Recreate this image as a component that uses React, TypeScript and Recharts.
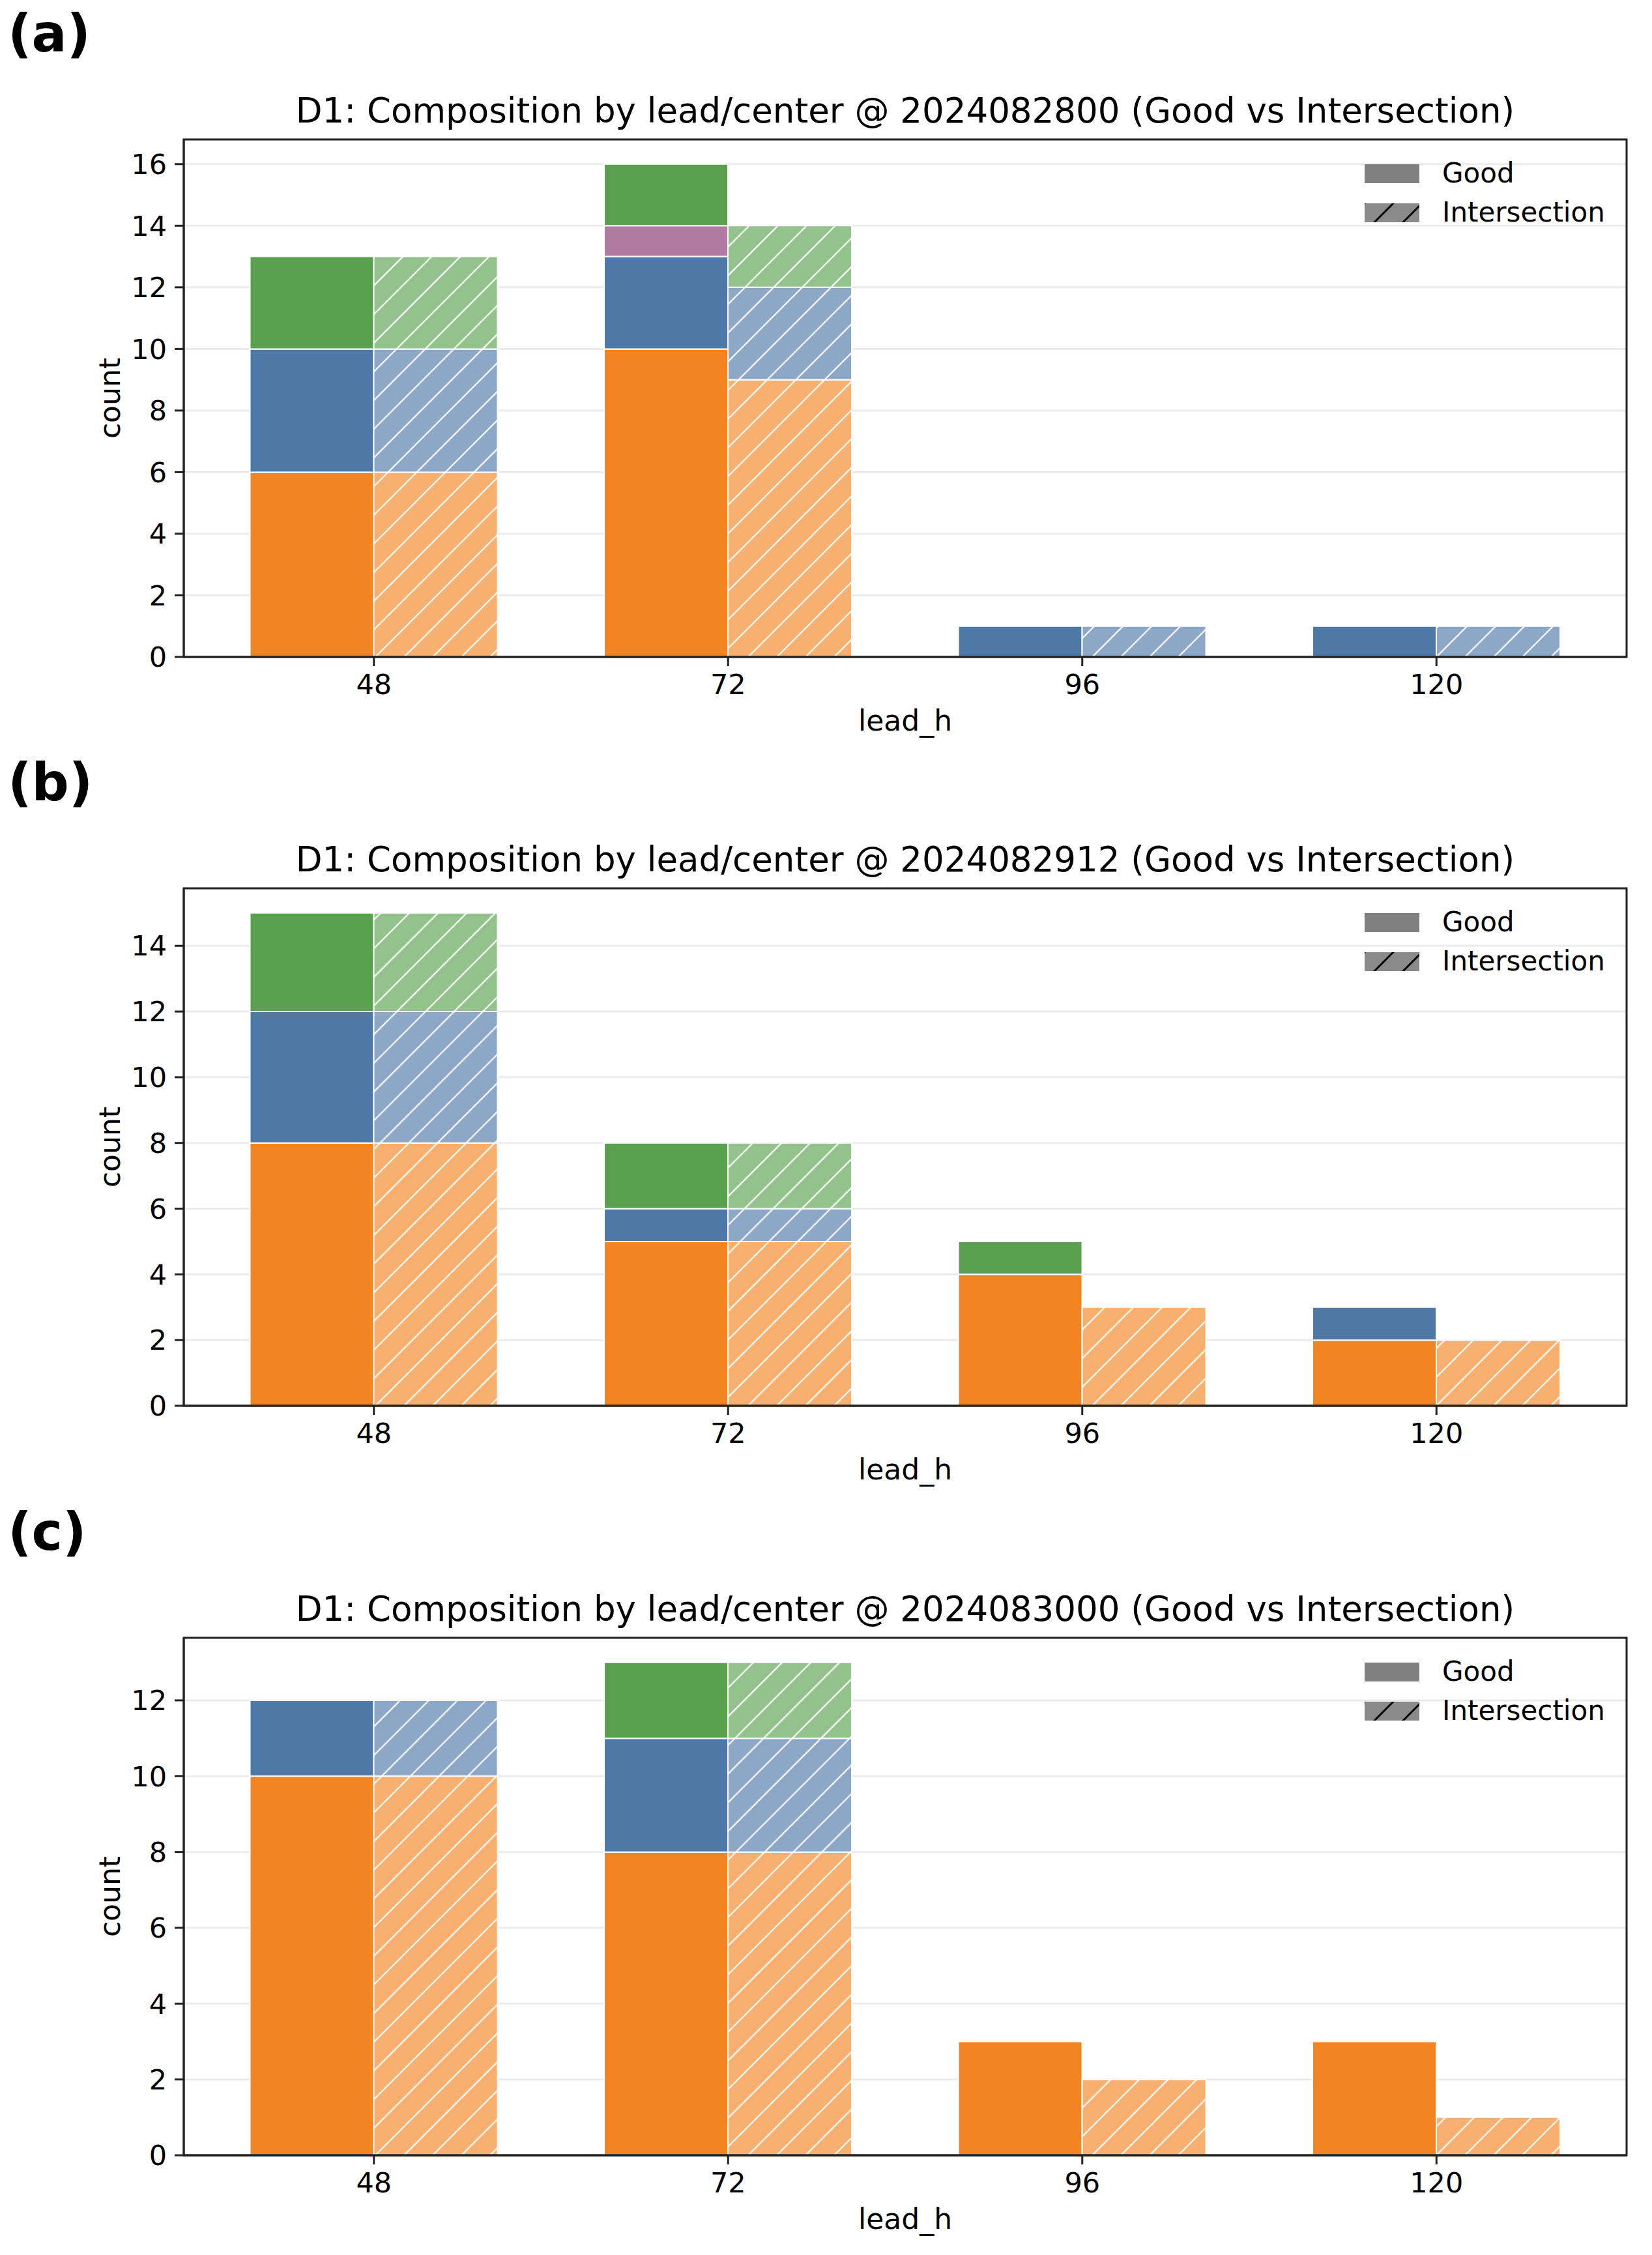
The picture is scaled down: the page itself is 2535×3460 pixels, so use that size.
import { BarChart, Bar, XAxis, YAxis, CartesianGrid, Legend, Label } from 'recharts';

const LEADS = ['48', '72', '96', '120'];
// stack order, bottom -> top
const CENTER_COLORS = ['#f28522', '#4e79a7', '#b07aa1', '#59a14f'];
const LEGEND_LABELS = ['Good', 'Intersection'];

// (a) 2024082800
const A_GOOD_1 = [6, 10, 0, 0];
const A_GOOD_2 = [4, 3, 1, 1];
const A_GOOD_3 = [0, 1, 0, 0];
const A_GOOD_4 = [3, 2, 0, 0];
const A_INT_1 = [6, 9, 0, 0];
const A_INT_2 = [4, 3, 1, 1];
const A_INT_3 = [0, 0, 0, 0];
const A_INT_4 = [3, 2, 0, 0];
const A_TICKS = [0, 2, 4, 6, 8, 10, 12, 14, 16];

// (b) 2024082912
const B_GOOD_1 = [8, 5, 4, 2];
const B_GOOD_2 = [4, 1, 0, 1];
const B_GOOD_3 = [0, 0, 0, 0];
const B_GOOD_4 = [3, 2, 1, 0];
const B_INT_1 = [8, 5, 3, 2];
const B_INT_2 = [4, 1, 0, 0];
const B_INT_3 = [0, 0, 0, 0];
const B_INT_4 = [3, 2, 0, 0];
const B_TICKS = [0, 2, 4, 6, 8, 10, 12, 14];

// (c) 2024083000
const C_GOOD_1 = [10, 8, 3, 3];
const C_GOOD_2 = [2, 3, 0, 0];
const C_GOOD_3 = [0, 0, 0, 0];
const C_GOOD_4 = [0, 2, 0, 0];
const C_INT_1 = [10, 8, 2, 1];
const C_INT_2 = [2, 3, 0, 0];
const C_INT_3 = [0, 0, 0, 0];
const C_INT_4 = [0, 2, 0, 0];
const C_TICKS = [0, 2, 4, 6, 8, 10, 12];

const FONT = '"DejaVu Sans", sans-serif';
const W = 2535;
const H = 1149;
const PLOT_TOP = 214;
const PLOT_BOTTOM = 1008;
const PLOT_LEFT = 282;
const PLOT_RIGHT = 2496;
const Y_AXIS_W = 100;
const X_AXIS_H = 80;
const HATCH = 44;
const AXIS_COLOR = '#222';

const lighten = (hex: string, a: number) => {
  const n = parseInt(hex.slice(1), 16);
  const ch = [(n >> 16) & 255, (n >> 8) & 255, n & 255].map((c) => Math.round(c * a + 255 * (1 - a)));
  return '#' + ch.map((c) => c.toString(16).padStart(2, '0')).join('');
};

const hatchPath = `M${-HATCH / 4},${HATCH / 4} L${HATCH / 4},${-HATCH / 4} M0,${HATCH} L${HATCH},0 M${(HATCH * 3) / 4},${(HATCH * 5) / 4} L${(HATCH * 5) / 4},${(HATCH * 3) / 4}`;

const tickStyle = { fontSize: 43, fill: '#000', fontFamily: FONT };

interface PanelProps {
  tag: string;
  stamp: string;
  good: number[][];
  inter: number[][];
  ticks: number[];
  top: number;
}

function Panel({ tag, stamp, good, inter, ticks, top }: PanelProps) {
  const rows = LEADS.map((lead, i) => {
    const row: Record<string, string | number> = { lead };
    good.forEach((s, j) => { row[`g${j}`] = s[i]; });
    inter.forEach((s, j) => { row[`i${j}`] = s[i]; });
    return row;
  });
  const totals = LEADS.map((_, i) =>
    Math.max(good.reduce((a, s) => a + s[i], 0), inter.reduce((a, s) => a + s[i], 0)),
  );
  const yMax = Math.max(...totals) * 1.05;
  const pid = `hatch-${tag}`;

  const renderLegend = () => (
    <div style={{ fontFamily: FONT, fontSize: 42, color: '#000' }}>
      {LEGEND_LABELS.map((name, i) => (
        <div key={name} style={{ display: 'flex', alignItems: 'center', height: 60 }}>
          <svg width={84} height={29} style={{ display: 'block' }}>
            <rect width={84} height={29} fill={i === 0 ? '#808080' : `url(#${pid}-legend)`} />
          </svg>
          <span style={{ marginLeft: 35, lineHeight: '42px', whiteSpace: 'nowrap' }}>{name}</span>
        </div>
      ))}
    </div>
  );

  return (
    <div style={{ position: 'absolute', left: 0, top, width: W, height: H }}>
      <svg width={W} height={PLOT_TOP} style={{ position: 'absolute', left: 0, top: 0 }}>
        <text x={12} y={79} fontSize={80} fontWeight="bold" fontFamily={FONT} fill="#000">
          ({tag})
        </text>
        <text x={(PLOT_LEFT + PLOT_RIGHT) / 2} y={188} fontSize={53} fontFamily={FONT} textAnchor="middle" fill="#000">
          {`D1: Composition by lead/center @ ${stamp} (Good vs Intersection)`}
        </text>
      </svg>
      <div style={{ position: 'absolute', left: 0, top: 0 }}>
        <BarChart
          width={W}
          height={H}
          data={rows}
          margin={{ top: PLOT_TOP, right: W - PLOT_RIGHT, bottom: H - PLOT_BOTTOM - X_AXIS_H, left: PLOT_LEFT - Y_AXIS_W }}
          barCategoryGap="15%"
          barGap={0}
        >
          <defs>
            {CENTER_COLORS.map((c, j) => (
              <pattern key={j} id={`${pid}-${j}`} patternUnits="userSpaceOnUse" width={HATCH} height={HATCH}>
                <rect width={HATCH} height={HATCH} fill={lighten(c, 0.65)} />
                <path d={hatchPath} stroke="#fff" strokeWidth={2.5} opacity={0.85} />
              </pattern>
            ))}
            <pattern id={`${pid}-legend`} patternUnits="userSpaceOnUse" width={HATCH} height={HATCH}>
              <rect width={HATCH} height={HATCH} fill="#8a8a8a" />
              <path d={hatchPath} stroke="#000" strokeWidth={3} />
            </pattern>
          </defs>
          <CartesianGrid vertical={false} stroke="#ebebeb" strokeWidth={3} />
          {good.map((_, j) => (
            <Bar
              key={`g${j}`}
              dataKey={`g${j}`}
              stackId="good"
              fill={CENTER_COLORS[j]}
              stroke="#fff"
              strokeWidth={2}
              isAnimationActive={false}
            />
          ))}
          {inter.map((_, j) => (
            <Bar
              key={`i${j}`}
              dataKey={`i${j}`}
              stackId="inter"
              fill={`url(#${pid}-${j})`}
              stroke="#fff"
              strokeWidth={2}
              isAnimationActive={false}
            />
          ))}
          <XAxis
            dataKey="lead"
            type="category"
            interval={0}
            padding={{ left: 20, right: 20 }}
            height={X_AXIS_H}
            tickSize={14}
            tickMargin={12}
            tick={tickStyle}
            tickLine={{ stroke: AXIS_COLOR, strokeWidth: 3 }}
            axisLine={{ stroke: AXIS_COLOR, strokeWidth: 3 }}
          >
            <Label
              content={(p: any) => {
                const vb = p.viewBox;
                return (
                  <text x={vb.x + vb.width / 2} y={vb.y + 113} textAnchor="middle" fontSize={44} fontFamily={FONT} fill="#000">
                    lead_h
                  </text>
                );
              }}
            />
          </XAxis>
          <YAxis
            type="number"
            domain={[0, yMax]}
            ticks={ticks}
            interval={0}
            width={Y_AXIS_W}
            tickSize={14}
            tickMargin={12}
            tick={tickStyle}
            tickLine={{ stroke: AXIS_COLOR, strokeWidth: 3 }}
            axisLine={{ stroke: AXIS_COLOR, strokeWidth: 3 }}
          >
            <Label
              content={(p: any) => {
                const vb = p.viewBox;
                const cx = vb.x + 2;
                const cy = vb.y + vb.height / 2;
                return (
                  <text x={cx} y={cy} transform={`rotate(-90 ${cx} ${cy})`} textAnchor="middle" fontSize={44} fontFamily={FONT} fill="#000">
                    count
                  </text>
                );
              }}
            />
          </YAxis>
          <Legend
            layout="vertical"
            align="center"
            verticalAlign="middle"
            content={renderLegend}
            wrapperStyle={{ left: 2094, top: 236, width: 400 }}
          />
        </BarChart>
      </div>
      {/* axes frame (top/right spines) */}
      <svg width={W} height={H} style={{ position: 'absolute', left: 0, top: 0, pointerEvents: 'none' }}>
        <rect
          x={PLOT_LEFT}
          y={PLOT_TOP}
          width={PLOT_RIGHT - PLOT_LEFT}
          height={PLOT_BOTTOM - PLOT_TOP}
          fill="none"
          stroke={AXIS_COLOR}
          strokeWidth={3}
        />
      </svg>
    </div>
  );
}

export default function App() {
  return (
    <div style={{ position: 'absolute', left: 0, top: 0, width: W, height: 3460, background: '#fff', fontFamily: FONT }}>
      <Panel
        tag="a"
        stamp="2024082800"
        good={[A_GOOD_1, A_GOOD_2, A_GOOD_3, A_GOOD_4]}
        inter={[A_INT_1, A_INT_2, A_INT_3, A_INT_4]}
        ticks={A_TICKS}
        top={0}
      />
      <Panel
        tag="b"
        stamp="2024082912"
        good={[B_GOOD_1, B_GOOD_2, B_GOOD_3, B_GOOD_4]}
        inter={[B_INT_1, B_INT_2, B_INT_3, B_INT_4]}
        ticks={B_TICKS}
        top={1149}
      />
      <Panel
        tag="c"
        stamp="2024083000"
        good={[C_GOOD_1, C_GOOD_2, C_GOOD_3, C_GOOD_4]}
        inter={[C_INT_1, C_INT_2, C_INT_3, C_INT_4]}
        ticks={C_TICKS}
        top={2299}
      />
    </div>
  );
}
